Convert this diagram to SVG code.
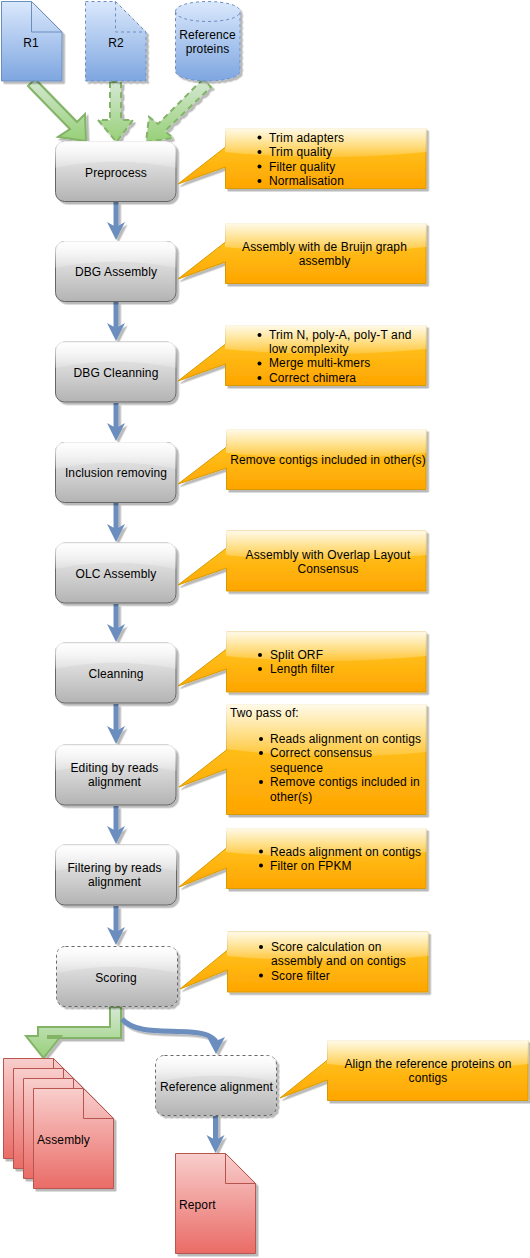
<svg xmlns="http://www.w3.org/2000/svg" width="530" height="1258" viewBox="0 0 530 1258">
<style>
text{font-family:"Liberation Sans",Arial,sans-serif;font-size:12px;fill:#000;letter-spacing:.12px}
.m{text-anchor:middle}
.box{fill:url(#gray);stroke:#666;stroke-width:1}
.dash{stroke-dasharray:3 3}
.glass{fill:url(#gl)}
.call{fill:url(#orange);stroke:#d79b00;stroke-width:1}
.cg{fill:url(#gl)}
.blue{fill:url(#blue);stroke:#6c8ebf;stroke-width:1}
.red{fill:url(#red);stroke:#b85450;stroke-width:1}
.in{fill:none}
.green{fill:url(#green);stroke:#82b366;stroke-width:2}
.flow{fill:none;stroke:#6c8ebf;stroke-width:5}
.head{fill:#6c8ebf}
.sh{filter:url(#s)}
</style>
<defs>
<linearGradient id="gl" x1="0" y1="0" x2="0" y2="1"><stop offset="0" stop-color="#fff" stop-opacity=".9"/><stop offset="1" stop-color="#fff" stop-opacity=".15"/></linearGradient>
<linearGradient id="gray" x1="0" y1="0" x2="0" y2="1"><stop offset="0" stop-color="#f5f5f5"/><stop offset="1" stop-color="#b3b3b3"/></linearGradient>
<linearGradient id="orange" x1="0" y1="0" x2="0" y2="1"><stop offset="0" stop-color="#ffcd28"/><stop offset="1" stop-color="#ffa500"/></linearGradient>
<linearGradient id="blue" x1="0" y1="0" x2="0" y2="1"><stop offset="0" stop-color="#dae8fc"/><stop offset="1" stop-color="#7ea6e0"/></linearGradient>
<linearGradient id="red" x1="0" y1="0" x2="0" y2="1"><stop offset="0" stop-color="#f8cecc"/><stop offset="1" stop-color="#ea6b66"/></linearGradient>
<linearGradient id="green" x1="0" y1="0" x2="0" y2="1"><stop offset="0" stop-color="#d5e8d4"/><stop offset="1" stop-color="#97d077"/></linearGradient>
<filter id="s" x="-20%" y="-20%" width="150%" height="150%"><feDropShadow dx="2.500" dy="2.500" stdDeviation="0.400" flood-color="#000" flood-opacity="0.27"/></filter>
</defs>

<g id="connectors">
<g class="sh">
<polygon class="green" points="35,79 28,86 70,129 58,137 86,141 85,114 77,122"/>
<polygon class="green" stroke-dasharray="6 4" points="110,82 110,120 98,120 116.500,142 133,120 121,120 121,82"/>
<polygon class="green" stroke-dasharray="6 4" points="203,79 158,124 149,117 146,142 173,138 165,131 211,87"/>
<polygon class="green" points="110,1007 110,1027 38,1027 38,1036 26,1036 43.500,1058 61,1036 48,1036 48,1038 121,1038 121,1007"/>
</g>
<g class="sh">
<path class="flow" d="M116 202V228"/><polygon class="head" points="107,222 116,240 125,222 116,227"/>
<path class="flow" d="M116 302V329"/><polygon class="head" points="107,323 116,341 125,323 116,328"/>
<path class="flow" d="M116 403V429"/><polygon class="head" points="107,423 116,441 125,423 116,428"/>
<path class="flow" d="M116 503V530"/><polygon class="head" points="107,524 116,542 125,524 116,529"/>
<path class="flow" d="M116 604V630"/><polygon class="head" points="107,624 116,642 125,624 116,629"/>
<path class="flow" d="M116 704V731"/><polygon class="head" points="107,726 116,744 125,726 116,731"/>
<path class="flow" d="M116 806V831"/><polygon class="head" points="107,826 116,844 125,826 116,831"/>
<path class="flow" d="M116 906V933"/><polygon class="head" points="107,927 116,945 125,927 116,932"/>
<path class="flow" d="M122 1019C135 1034 165 1030 190 1032C205 1033 213 1036 216 1042"/><polygon class="head" points="207,1037 216,1054 225,1037 216,1041"/>
<path class="flow" d="M215.500 1116V1142"/><polygon class="head" points="206.500,1135 215.500,1153 224.500,1135 215.500,1140"/>
</g>
</g>

<g id="r1"><g class="sh"><path class="blue" d="M1.500 1.500H31.500L62 32V81H1.500Z"/></g><path class="blue in" d="M31.500 1.500V32H62"/><text class="m" x="31" y="47">R1</text></g>
<g id="r2"><g class="sh"><path class="blue dash" d="M85.500 1.500H115.500L146 32V81H85.500Z"/></g><path class="blue in dash" d="M115.500 1.500V32H146"/><text class="m" x="116" y="47">R2</text></g>
<g id="reference-proteins"><g class="sh"><path class="blue dash" d="M175.500 11.500C175.500 -1.800 240 -1.800 240 11.500V71C240 84.300 175.500 84.300 175.500 71Z"/></g><path class="blue in dash" d="M175.500 11.500C175.500 24.800 240 24.800 240 11.500"/><text class="m" x="207.500" y="39">Reference</text><text class="m" x="207.500" y="53">proteins</text></g>

<g id="preprocess"><g class="sh"><rect class="box" x="55.500" y="141.500" width="120.500" height="60" rx="9"/></g><path class="glass" d="M55 151Q55 141 65 141H166Q176.500 141 176.500 151V168Q115 155 55 168Z"/><text class="m" x="116" y="177">Preprocess</text></g>
<g id="dbg-assembly"><g class="sh"><rect class="box" x="55.500" y="241.500" width="120.500" height="60" rx="9"/></g><path class="glass" d="M55 251Q55 241 65 241H166Q176.500 241 176.500 251V268Q115 255 55 268Z"/><text class="m" x="116" y="276">DBG Assembly</text></g>
<g id="dbg-cleanning"><g class="sh"><rect class="box" x="55.500" y="342" width="120.500" height="60" rx="9"/></g><path class="glass" d="M55 351Q55 341.500 65 341.500H166Q176.500 341.500 176.500 351V368Q115 355 55 368Z"/><text class="m" x="116" y="377">DBG Cleanning</text></g>
<g id="inclusion-removing"><g class="sh"><rect class="box" x="55.500" y="442.500" width="120.500" height="60" rx="9"/></g><path class="glass" d="M55 452Q55 442 65 442H166Q176.500 442 176.500 452V469Q115 456 55 469Z"/><text class="m" x="116" y="477">Inclusion removing</text></g>
<g id="olc-assembly"><g class="sh"><rect class="box" x="55.500" y="543" width="120.500" height="60" rx="9"/></g><path class="glass" d="M55 552Q55 542.500 65 542.500H166Q176.500 542.500 176.500 552V569Q115 556 55 569Z"/><text class="m" x="116" y="578">OLC Assembly</text></g>
<g id="cleanning"><g class="sh"><rect class="box" x="55.500" y="643" width="120.500" height="60" rx="9"/></g><path class="glass" d="M55 652Q55 642.500 65 642.500H166Q176.500 642.500 176.500 652V669Q115 656 55 669Z"/><text class="m" x="116" y="678">Cleanning</text></g>
<g id="editing"><g class="sh"><rect class="box" x="55.500" y="745" width="120.500" height="60" rx="9"/></g><path class="glass" d="M55 754Q55 744.500 65 744.500H166Q176.500 744.500 176.500 754V771Q115 758 55 771Z"/><text class="m" x="114.500" y="772">Editing by reads</text><text class="m" x="114.500" y="786">alignment</text></g>
<g id="filtering"><g class="sh"><rect class="box" x="55.500" y="845" width="121" height="60" rx="9"/></g><path class="glass" d="M55 854Q55 844.500 65 844.500H167Q177 844.500 177 854V871Q115 858 55 871Z"/><text class="m" x="114.500" y="872">Filtering by reads</text><text class="m" x="114.500" y="886">alignment</text></g>
<g id="scoring"><g class="sh"><rect class="box dash" x="56.500" y="946.500" width="121" height="60" rx="9"/></g><path class="glass" d="M57 956Q57 947 66 947H168Q177 947 177 956V973Q117 960 57 973Z"/><text class="m" x="116" y="982">Scoring</text></g>
<g id="reference-alignment"><g class="sh"><rect class="box dash" x="155.500" y="1055.500" width="121" height="60" rx="9"/></g><path class="glass" d="M156 1065Q156 1056 165 1056H267Q276 1056 276 1065V1082Q216 1069 156 1082Z"/><text class="m" x="216.500" y="1091">Reference alignment</text></g>

<g id="assembly">
<g class="sh"><path class="red" d="M3.500 1058.500H53.500L83.500 1088.500V1158.500H3.500Z"/></g><path class="red in" d="M53.500 1058.500V1088.500H83.500"/>
<g class="sh"><path class="red" d="M13.500 1068.500H63.500L93.500 1098.500V1168.500H13.500Z"/></g><path class="red in" d="M63.500 1068.500V1098.500H93.500"/>
<g class="sh"><path class="red" d="M23.500 1078.500H73.500L103.500 1108.500V1178.500H23.500Z"/></g><path class="red in" d="M73.500 1078.500V1108.500H103.500"/>
<g class="sh"><path class="red" d="M33.500 1088.500H83.500L113.500 1118.500V1188.500H33.500Z"/></g><path class="red in" d="M83.500 1088.500V1118.500H113.500"/>
<text x="37" y="1144">Assembly</text></g>
<g id="report"><g class="sh"><path class="red" d="M175.500 1153.500H225.500L255.500 1183.500V1253.500H175.500Z"/></g><path class="red in" d="M225.500 1153.500V1183.500H255.500"/><text x="179" y="1209">Report</text></g>

<g id="note-preprocess"><g class="sh"><path class="call" d="M225.500 128.500H426V188.500H225.500V167L178 184L225.500 147Z"/></g><path class="cg" d="M225 128H426.500V152Q325 162 225 152Z"/>
<circle cx="259.500" cy="137.500" r="2"/><circle cx="259.500" cy="152" r="2"/><circle cx="259.500" cy="166.500" r="2"/><circle cx="259.500" cy="181" r="2"/>
<text x="269" y="142">Trim adapters</text><text x="269" y="156">Trim quality</text><text x="269" y="171">Filter quality</text><text x="269" y="185">Normalisation</text></g>
<g id="note-dbg-assembly"><g class="sh"><path class="call" d="M225.500 223.500H426V283.500H225.500V262L178 279L225.500 242Z"/></g><path class="cg" d="M225 223H426.500V247Q325 257 225 247Z"/>
<text class="m" x="324.500" y="251">Assembly with de Bruijn graph</text><text class="m" x="324.500" y="265">assembly</text></g>
<g id="note-dbg-cleanning"><g class="sh"><path class="call" d="M225.500 325.500H426V385.500H225.500V364L178 381L225.500 344Z"/></g><path class="cg" d="M225 325H426.500V349Q325 359 225 349Z"/>
<circle cx="259.500" cy="335" r="2"/><circle cx="259.500" cy="363.500" r="2"/><circle cx="259.500" cy="378" r="2"/>
<text x="269" y="339">Trim N, poly-A, poly-T and</text><text x="269" y="353">low complexity</text><text x="269" y="367">Merge multi-kmers</text><text x="269" y="382">Correct chimera</text></g>
<g id="note-inclusion"><g class="sh"><path class="call" d="M226.500 429.500H426V489.500H226.500V468L178 484L226.500 447Z"/></g><path class="cg" d="M226 429H426.500V453Q325 463 226 453Z"/>
<text class="m" x="328" y="464">Remove contigs included in other(s)</text></g>
<g id="note-olc"><g class="sh"><path class="call" d="M226.500 531H426V591H226.500V568L178 585L226.500 548Z"/></g><path class="cg" d="M226 530.500H426.500V555Q325 565 226 555Z"/>
<text class="m" x="328" y="559">Assembly with Overlap Layout</text><text class="m" x="328" y="573">Consensus</text></g>
<g id="note-cleanning"><g class="sh"><path class="call" d="M226.500 632H426V692H226.500V669L178 686L226.500 649Z"/></g><path class="cg" d="M226 631.500H426.500V656Q325 666 226 656Z"/>
<circle cx="260" cy="655" r="2"/><circle cx="260" cy="669" r="2"/>
<text x="270" y="659">Split ORF</text><text x="270" y="673">Length filter</text></g>
<g id="note-editing"><g class="sh"><path class="call" d="M226.500 704.500H426V814.500H226.500V769L179 787L226.500 750Z"/></g><path class="cg" d="M226 704H426.500V752Q325 762 226 749Z"/>
<text x="230" y="717">Two pass of:</text>
<circle cx="261" cy="739" r="2"/><circle cx="261" cy="753" r="2"/><circle cx="261" cy="782" r="2"/>
<text x="270" y="743">Reads alignment on contigs</text><text x="270" y="757">Correct consensus</text><text x="270" y="772">sequence</text><text x="270" y="786">Remove contigs included in</text><text x="270" y="801">other(s)</text></g>
<g id="note-filtering"><g class="sh"><path class="call" d="M226.500 828.500H426V888.500H226.500V868L179 887L226.500 848Z"/></g><path class="cg" d="M226 828H426.500V852Q325 862 226 852Z"/>
<circle cx="261" cy="851.500" r="2"/><circle cx="261" cy="865.500" r="2"/>
<text x="270" y="856">Reads alignment on contigs</text><text x="270" y="870">Filter on FPKM</text></g>
<g id="note-scoring"><g class="sh"><path class="call" d="M227.500 932H428V992H227.500V970L180 989L227.500 950Z"/></g><path class="cg" d="M227 931.500H428.500V956Q325 966 227 956Z"/>
<circle cx="261" cy="947" r="2"/><circle cx="261" cy="975.500" r="2"/>
<text x="271" y="951">Score calculation on</text><text x="271" y="965">assembly and on contigs</text><text x="271" y="980">Score filter</text></g>
<g id="note-reference"><g class="sh"><path class="call" d="M327.500 1040.500H528V1100.500H327.500V1080L280 1098L327.500 1060Z"/></g><path class="cg" d="M327 1040H528.500V1064Q425 1074 327 1064Z"/>
<text class="m" x="428" y="1068">Align the reference proteins on</text><text class="m" x="428" y="1082">contigs</text></g>
</svg>
